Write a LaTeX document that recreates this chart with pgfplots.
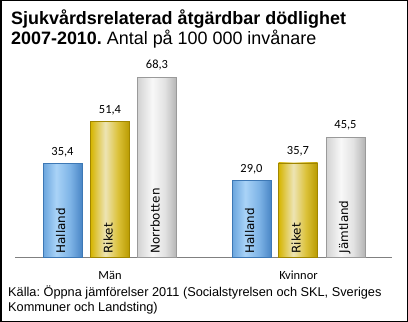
\documentclass[border=0pt]{standalone}
\usepackage{pgfplots}
\pgfplotsset{compat=1.18}
\usepackage{fontspec}
\setmainfont{Liberation Sans}
\newfontfamily\carlito{Carlito}
\newfontfamily\dejavu{DejaVu Sans}
\frenchspacing

\definecolor{bA}{HTML}{6AA5DD}
\definecolor{bB}{HTML}{A9D3F7}
\definecolor{bC}{HTML}{7DB3E6}
\definecolor{bD}{HTML}{4A86C6}
\definecolor{bE}{HTML}{3D78B5}
\definecolor{gA}{HTML}{D6B500}
\definecolor{gB}{HTML}{EDE4B4}
\definecolor{gC}{HTML}{DCC23A}
\definecolor{gD}{HTML}{B89A00}
\definecolor{gE}{HTML}{A08600}
\definecolor{sA}{HTML}{D2D2D2}
\definecolor{sB}{HTML}{F8F8F8}
\definecolor{sC}{HTML}{E2E2E2}
\definecolor{sD}{HTML}{B4B4B4}
\definecolor{sE}{HTML}{9A9A9A}

\pgfdeclarehorizontalshading{blueshade}{100bp}{color(0bp)=(bA); color(25bp)=(bA); color(42bp)=(bB); color(60bp)=(bC); color(75bp)=(bD); color(100bp)=(bD)}
\pgfdeclarehorizontalshading{goldshade}{100bp}{color(0bp)=(gA); color(25bp)=(gA); color(44bp)=(gB); color(60bp)=(gC); color(75bp)=(gD); color(100bp)=(gD)}
\pgfdeclarehorizontalshading{silvershade}{100bp}{color(0bp)=(sA); color(25bp)=(sA); color(44bp)=(sB); color(60bp)=(sC); color(75bp)=(sD); color(100bp)=(sD)}

\pgfplotsset{
  valbar/.style={ybar, bar width=39, bar shift=0pt, line width=0.6bp,
    nodes near coords={\pgfmathprintnumber[fixed,fixed zerofill,precision=1,use comma,assume math mode=true]{\pgfplotspointmeta}},
    nodes near coords style={font=\carlito\fontsize{12.5}{14}\selectfont, text=black, yshift=3bp}},
  bluebar/.style={valbar, draw=bE, shade, shading=blueshade, shading angle=0},
  goldbar/.style={valbar, draw=gE, shade, shading=goldshade, shading angle=0},
  silverbar/.style={valbar, draw=sE, shade, shading=silvershade, shading angle=0},
}

\begin{document}
\begin{tikzpicture}
\useasboundingbox (0,0) rectangle (408bp,322bp);
\draw[line width=1.5bp] (0.75bp,0.75bp) rectangle (407.25bp,321.25bp);

\node[anchor=base west, inner sep=0, font=\fontsize{18}{21}\selectfont\bfseries] at (11bp,297.5bp) {Sjukvårdsrelaterad åtgärdbar dödlighet};
\node[anchor=base west, inner sep=0, font=\fontsize{18}{21}\selectfont] at (11bp,277bp) {\textbf{2007-2010.} Antal på 100 000 invånare};

\begin{axis}[
  at={(15bp,65bp)}, anchor=south west,
  scale only axis, width=377bp, height=197.6bp,
  xmin=15, xmax=392, ymin=0, ymax=75,
  axis y line=none, axis x line=bottom,
  x axis line style={-, draw=gray, line width=0.9bp},
  xtick={110,298.5}, xticklabels={Män,Kvinnor},
  major tick length=0, ytick=\empty,
  xticklabel style={font=\carlito\fontsize{12.5}{14}\selectfont, anchor=base, yshift=-23bp},
  clip=false,
]
\addplot[bluebar] coordinates {(62.5,35.4)};
\addplot[goldbar] coordinates {(110,51.4)};
\addplot[silverbar] coordinates {(157,68.3)};
\addplot[bluebar] coordinates {(251.5,29.0)};
\addplot[goldbar] coordinates {(298,35.7)};
\addplot[silverbar] coordinates {(345.5,45.5)};
\addplot[draw=none, nodes near coords, point meta=explicit symbolic,
  nodes near coords style={font=\dejavu\fontsize{12}{14}\selectfont, text=black, rotate=90, anchor=base west}]
  coordinates {(65,0)[Halland] (112.5,0)[Riket] (159.5,0)[Norrbotten] (254,0)[Halland] (300.5,0)[Riket] (348,0)[Jämtland]};
\end{axis}

\node[anchor=base west, inner sep=0, font=\fontsize{12.8}{15}\selectfont] at (8bp,26bp) {Källa: Öppna jämförelser 2011 (Socialstyrelsen och SKL, Sveriges};
\node[anchor=base west, inner sep=0, font=\fontsize{12.8}{15}\selectfont] at (8bp,11bp) {Kommuner och Landsting)};
\end{tikzpicture}
\end{document}
